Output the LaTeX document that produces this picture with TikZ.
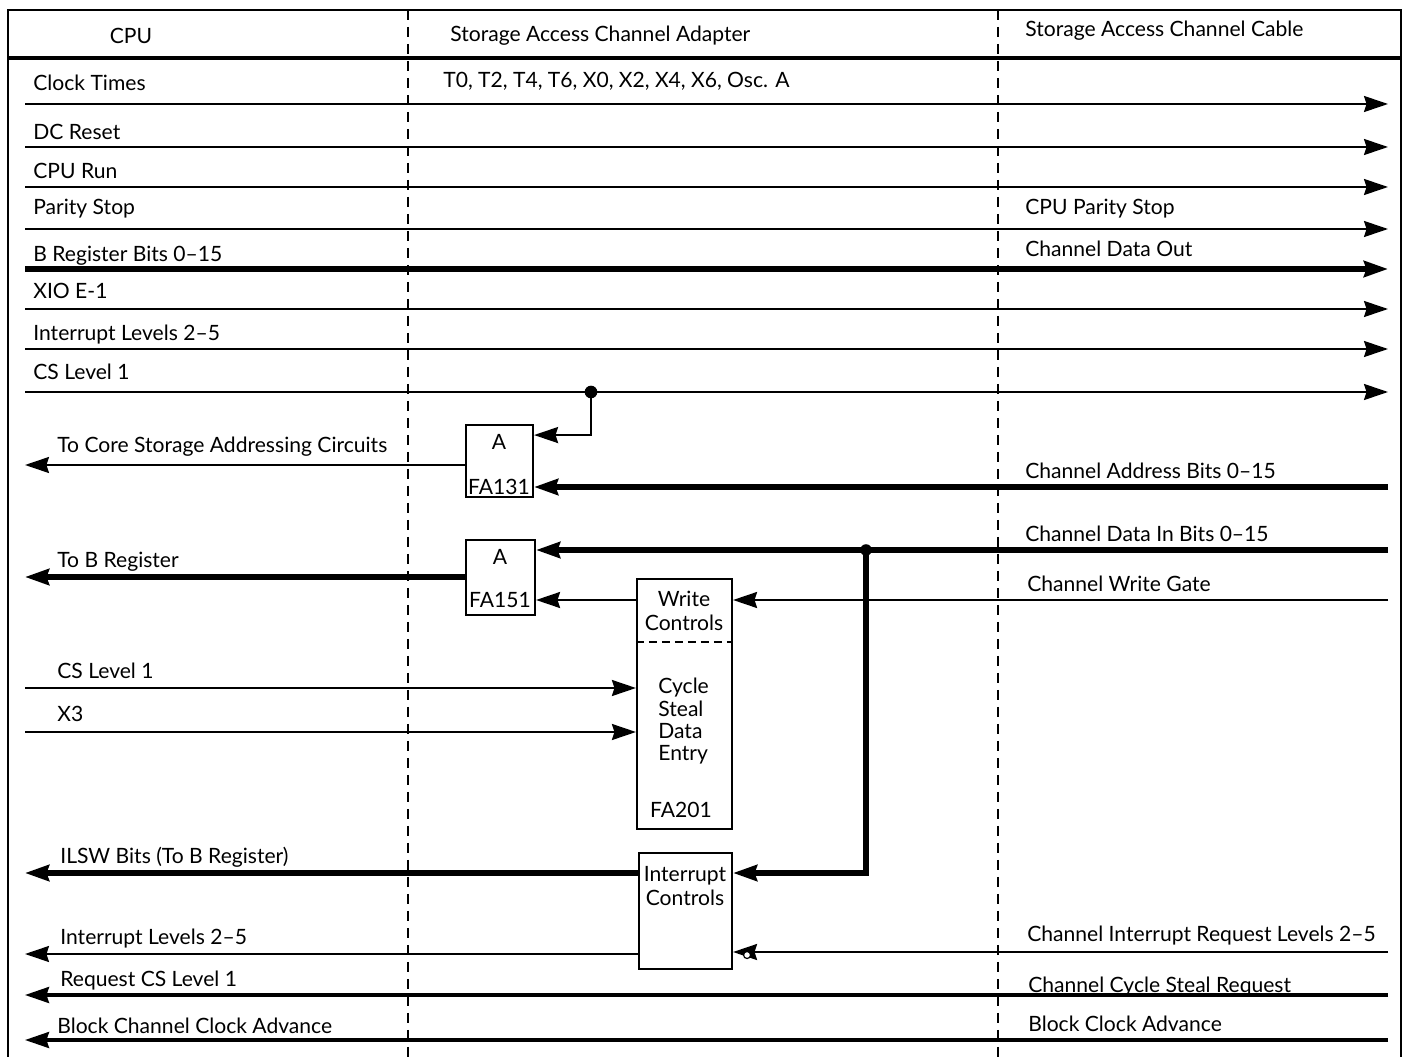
\documentclass[tikz,border=0pt]{standalone}
\usepackage{fontspec}
\setmainfont{Lato}
\usetikzlibrary{arrows.meta, calc, positioning}

\begin{document}
\begin{tikzpicture}[
        x = 0.02cm, y = -0.02cm,
        >= {Stealth[length = 0.48cm, width = 0.32cm, inset = 0.05cm]},
        font = \fontsize{12}{13.8}\selectfont,
        sig/.style = {line width = 1.2pt},
        midsig/.style = {line width = 1.8pt},
        bus/.style = {line width = 3pt},
        frame/.style = {line width = 1.3pt},
        divider/.style = {line width = 1.2pt, dash pattern = on 0.2cm off 0.14cm},
        blk/.style = {draw, line width = 1.2pt, inner sep = 0pt},
        lbl/.style = {anchor = base west, inner sep = 0pt},
        txt/.style = {inner sep = 0pt}
    ]

        \useasboundingbox (0,0) rectangle (1409,1057);

        % frame and columns
        \draw[frame] (8,1057) -- (8,10) -- (1401,10) -- (1401,1057);
        \draw[line width = 2.2pt] (8,58) -- (1401,58);
        \draw[divider] (408,10) -- (408,1057);
        \draw[divider] (998,10) -- (998,1057);

        \node[txt] (hcpu) at (131,36) {CPU};
        \node[txt, anchor = west] (hadapter) at (450,36) {Storage Access Channel Adapter};
        \node[txt, anchor = west] (hcable) at (1025,31) {Storage Access Channel Cable};

        % CPU to cable
        \foreach \yy/\by/\txt/\ww [count = \i] in {
                104/91/Clock Times/sig,
                147/140/DC Reset/sig,
                187/179/CPU Run/sig,
                229/215/Parity Stop/sig,
                269/262/B Register Bits 0--15/bus,
                309/299/XIO E-1/sig,
                349/340/Interrupt Levels 2--5/sig,
                392/379/CS Level 1/sig} {
            \coordinate (out\i-w) at (25,\yy);
            \coordinate (out\i-e) at (1388,\yy);
            \draw[\ww, ->] (out\i-w) -- (out\i-e);
            \node[lbl] (outlab\i) at (33,\by) {\txt};
        }
        \node[txt, anchor = west] (clk) at (443,81) {T0, T2, T4, T6, X0, X2, X4, X6, Osc. A};
        \node[lbl] (cpustop) at (1025,215) {CPU Parity Stop};
        \node[lbl] (dataout) at (1025,257) {Channel Data Out};

        % blocks
        \node[blk, minimum width = 67*0.02cm, minimum height = 72*0.02cm] (fa131) at (499.5,461) {};
        \node[txt] at (499,442) {A};
        \node[txt] at (499,487) {FA131};
        \node[blk, minimum width = 69*0.02cm, minimum height = 75*0.02cm] (fa151) at (500.5,577.5) {};
        \node[txt] at (500,557) {A};
        \node[txt] at (500,600) {FA151};
        \node[blk, minimum width = 95*0.02cm, minimum height = 250*0.02cm] (wctl) at (684.5,704) {};
        \draw[line width = 1pt, dash pattern = on 0.16cm off 0.1cm] (wctl.west |- 0,642) -- (wctl.east |- 0,642);
        \node[txt, align = center] at (684,611) {Write\\Controls};
        \node[txt, align = left, anchor = north west, font = \fontsize{12}{12.7}\selectfont] at (658,678) {Cycle\\Steal\\Data\\Entry};
        \node[txt] at (681,810) {FA201};
        \node[blk, minimum width = 93*0.02cm, minimum height = 116*0.02cm] (ictl) at (685.5,911) {};
        \node[txt, align = center, font = \fontsize{12}{14.2}\selectfont] at (685,886) {Interrupt\\Controls};

        % address path
        \coordinate (tap1) at (591,392);
        \fill (tap1) circle (3.6pt);
        \draw[sig, ->] (tap1) |- ($(fa131.north east)!.15!(fa131.south east)$);
        \coordinate (addr) at (1388,487);
        \draw[bus, ->] (addr) -- (fa131.east |- addr);
        \node[lbl] (addrlab) at (1025,478) {Channel Address Bits 0--15};
        \coordinate (core) at (25,465);
        \draw[sig, ->] (fa131.west |- core) -- (core);
        \node[lbl] (corelab) at (57,452) {To Core Storage Addressing Circuits};

        % data in path
        \coordinate (din) at (1388,550);
        \coordinate (tap2) at (866,550);
        \draw[bus, ->] (din) -- (fa151.east |- din);
        \fill (tap2) circle (3.3pt);
        \node[lbl] (dinlab) at (1025,541) {Channel Data In Bits 0--15};
        \coordinate (breg) at (25,577);
        \draw[bus, ->] (fa151.west |- breg) -- (breg);
        \node[lbl] (breglab) at (57,567) {To B Register};
        \coordinate (wgate) at (1388,600);
        \draw[sig, ->] (wgate) -- (wctl.east |- wgate);
        \draw[sig, ->] (wctl.west |- wgate) -- (fa151.east |- wgate);
        \node[lbl] (wgatelab) at (1027,591) {Channel Write Gate};

        % cycle steal inputs
        \coordinate (cs1) at (25,688);
        \coordinate (x3) at (25,732);
        \draw[sig, ->] (cs1) -- (wctl.west |- cs1);
        \draw[sig, ->] (x3) -- (wctl.west |- x3);
        \node[lbl] (cs1lab) at (57,678) {CS Level 1};
        \node[lbl] (x3lab) at (57,721) {X3};

        % interrupts
        \coordinate (ilsw) at (25,873);
        \draw[bus, ->] (tap2) |- (ictl.east |- ilsw);
        \draw[bus, ->] (ictl.west |- ilsw) -- (ilsw);
        \node[lbl] (ilswlab) at (60,863) {ILSW Bits (To B Register)};
        \coordinate (ilev) at (25,954);
        \coordinate (ireq) at (1388,952);
        \draw[sig, ->] (ictl.west |- ilev) -- (ilev);
        \draw[sig, ->] (ireq) -- (ictl.east |- ireq);
        \draw[line width = 0.7pt, fill = white] ($(ictl.east |- ireq)+(14,3)$) circle (2pt);
        \node[lbl] (ilevlab) at (60,944) {Interrupt Levels 2--5};
        \node[lbl] (ireqlab) at (1027,941) {Channel Interrupt Request Levels 2--5};

        % cable to CPU
        \coordinate (csreq-e) at (1388,995);
        \coordinate (csreq-w) at (25,995);
        \draw[midsig, ->] (csreq-e) -- (csreq-w);
        \node[lbl] (csreqlab) at (60,986) {Request CS Level 1};
        \node[lbl] (csreqlab2) at (1028,992) {Channel Cycle Steal Request};
        \coordinate (blk-e) at (1388,1040);
        \coordinate (blk-w) at (25,1040);
        \draw[midsig, ->] (blk-e) -- (blk-w);
        \node[lbl] (blklab) at (57,1033) {Block Channel Clock Advance};
        \node[lbl] (blklab2) at (1028,1031) {Block Clock Advance};

    \end{tikzpicture}
\end{document}
